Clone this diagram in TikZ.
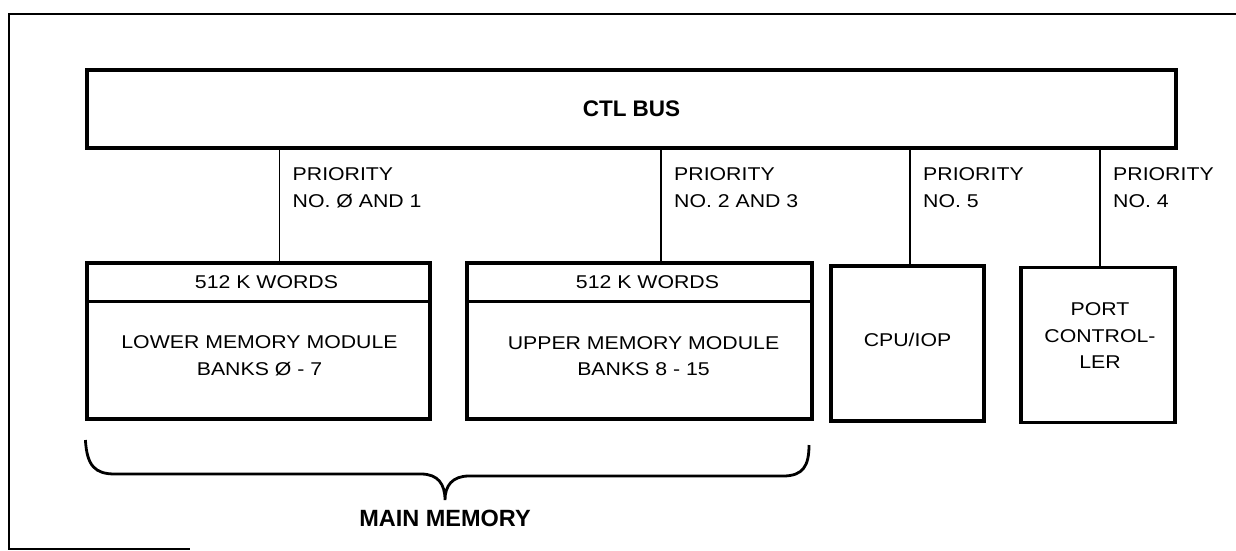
\documentclass[tikz,border=0pt]{standalone}
\usepackage{fontspec}
\setmainfont{Liberation Sans}[FakeStretch=1.15]
\newfontfamily\headfont{Liberation Sans}
\usetikzlibrary {arrows.meta, positioning, calc}
\tikzset{
    >={Latex}
}

\begin{document}
\begin{tikzpicture}[x=1pt, y=-1pt,
    unitbox/.style={draw, line width=3.2pt, inner sep=0pt},
    divider/.style={line width=2.4pt},
    link/.style={line width=1.8pt},
    prio/.style={anchor=north west, align=left, inner sep=0pt,
        font=\fontsize{18.5}{27}\selectfont},
    boxtext/.style={align=center, inner sep=0pt,
        font=\fontsize{18.5}{26.5}\selectfont},
    title/.style={inner sep=0pt, font=\headfont\bfseries\fontsize{22.5}{27}\selectfont}]
    \useasboundingbox (0,0) rectangle (1236,550);
    % open frame
    \draw[line width=2.4pt] (1240,14) -- (9,14) -- (9,549) -- (190,549);
    % bus
    \node[unitbox, title, minimum width=1089pt, minimum height=78pt] (bus) at (631.5,109) {CTL BUS};
    % units
    \node[unitbox, minimum width=343pt, minimum height=156pt] (lower) at (258.5,341) {};
    \node[unitbox, minimum width=345pt, minimum height=156pt] (upper) at (639.5,341) {};
    \node[unitbox, minimum width=153pt, minimum height=155pt] (cpu) at (907.5,343.5) {};
    \node[unitbox, minimum width=154pt, minimum height=155pt] (port) at (1098,345) {};
    % word headers
    \foreach \unit in {lower, upper}{
        \draw[divider] ([yshift=-40pt]\unit.north west) -- ([yshift=-40pt]\unit.north east);
        \node[boxtext, anchor=base] (\unit head) at ($(\unit.north)+(8,27)$) {512 K WORDS};
    }
    \node[boxtext] (lowertext) at ($(lower.center)+(1,15)$) {LOWER MEMORY MODULE\\BANKS Ø - 7};
    \node[boxtext] (uppertext) at ($(upper.center)+(4,15)$) {UPPER MEMORY MODULE\\BANKS 8 - 15};
    \node[boxtext, anchor=base] (cputext) at ($(cpu.center)+(0,3)$) {CPU/IOP};
    \node[boxtext] (porttext) at ($(port.center)+(2,-9)$) {PORT\\CONTROL-\\LER};
    % priority taps
    \coordinate (lowertap) at ($(lower.north)+(21,0)$);
    \coordinate (uppertap) at ($(upper.north)+(21.5,0)$);
    \coordinate (cputap) at ($(cpu.north)+(2.5,0)$);
    \coordinate (porttap) at ($(port.north)+(2,0)$);
    \foreach \tap/\prionum in {lower/NO. Ø AND 1, upper/NO. 2 AND 3, cpu/NO. 5, port/NO. 4}{
        \draw[link] (\tap tap) -- (\tap tap |- bus.south);
        \node[prio] (\tap prio) at ($(\tap tap |- bus.south)+(13,18)$) {PRIORITY\\\prionum};
    }
    % main memory brace
    \draw[line width=2.8pt] (lower.south west |- 0,440)
        .. controls (87,466) and (95,474) .. (115,474) -- (421,474)
        .. controls (438,474) and (445,484) .. (445,500)
        .. controls (445,486) and (452,476) .. (469,476) -- (783,476)
        .. controls (803,476) and (809,466) .. (809,445);
    \node[title, anchor=base, font=\headfont\bfseries\fontsize{23.5}{27}\selectfont] (mainmem) at (445,526) {MAIN MEMORY};
\end{tikzpicture}
\end{document}
